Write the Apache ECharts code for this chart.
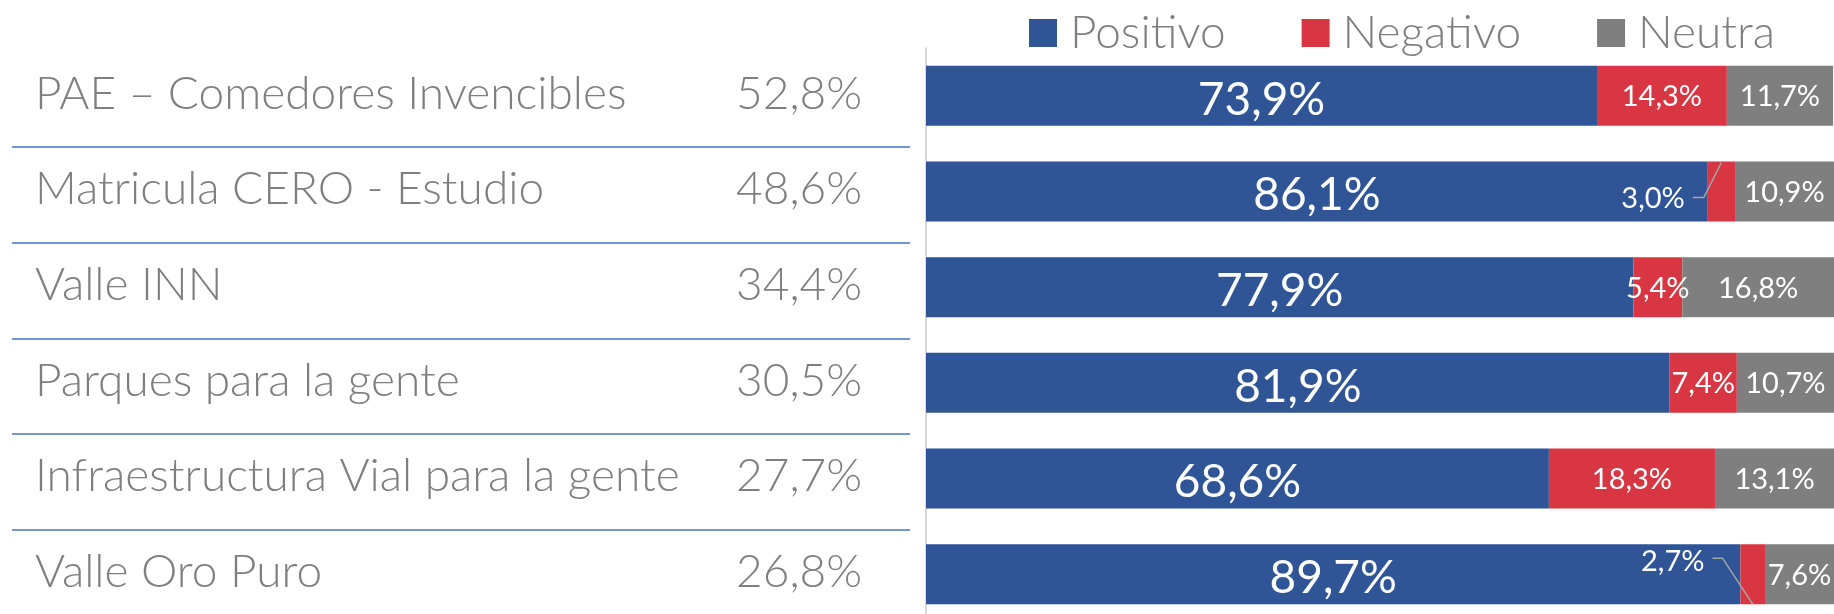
<!DOCTYPE html>
<html>
<head>
<meta charset="utf-8">
<title>Percepción por programa</title>
<script src="https://cdn.jsdelivr.net/npm/echarts@6/dist/echarts.min.js"></script>
<style>
  html, body { margin: 0; padding: 0; background: #fff; }
  #chart { width: 1834px; height: 614px; }
</style>
</head>
<body>
<div id="chart"></div>
<script>
// programas y su participación
const programas = [
    'PAE – Comedores Invencibles',
    'Matricula CERO - Estudio',
    'Valle INN',
    'Parques para la gente',
    'Infraestructura Vial para la gente',
    'Valle Oro Puro'
];
const participacion = [52.8, 48.6, 34.4, 30.5, 27.7, 26.8];

// sentimiento por programa (%)
const positivo = [73.9, 86.1, 77.9, 81.9, 68.6, 89.7];
const negativo = [14.3, 3.0, 5.4, 7.4, 18.3, 2.7];
const neutra = [11.7, 10.9, 16.8, 10.7, 13.1, 7.6];

const FONT = 'Lato';
const GRIS = '#7f7f7f';
const BAR_W = 60;
const MIN_DENTRO = 4;   // segmentos negativos más finos llevan la etiqueta fuera

function pct(v) {
    return v.toFixed(1).replace('.', ',') + '%';
}

function barLabel(size, dy) {
    return {
        show: true,
        position: 'inside',
        offset: [0, dy || 0],
        color: '#fff',
        fontFamily: FONT,
        fontWeight: 400,
        fontSize: size,
        formatter: (p) => pct(p.value)
    };
}

// filas de la tabla de la izquierda
function renderRow(params, api) {
    const idx = api.value(1);
    const center = api.coord([0, idx])[1];
    const band = api.size([0, 1])[1];
    const cs = params.coordSys;
    const children = [
        {
            type: 'text',
            style: {
                text: programas[idx], x: cs.x + 23, y: center - 2,
                align: 'left', verticalAlign: 'middle',
                fill: GRIS, fontFamily: FONT, fontWeight: 300, fontSize: 46
            }
        },
        {
            type: 'text',
            style: {
                text: pct(participacion[idx]), x: cs.x + 850, y: center - 2,
                align: 'right', verticalAlign: 'middle',
                fill: GRIS, fontFamily: FONT, fontWeight: 300, fontSize: 46
            }
        }
    ];
    if (idx < programas.length - 1) {
        const ly = Math.round(center + band / 2 + 3.5);
        children.push({
            type: 'line',
            shape: { x1: cs.x, y1: ly, x2: cs.x + cs.width, y2: ly },
            style: { stroke: '#4472c4', lineWidth: 1.5 }
        });
    }
    return { type: 'group', children: children };
}

// etiqueta externa + línea guía para los segmentos negativos muy finos
function renderGuia(params, api) {
    const idx = api.value(1);
    const ini = api.coord([api.value(0), idx]);
    const fin = api.coord([api.value(0) + api.value(2), idx]);
    const xL = ini[0];
    const mid = (ini[0] + fin[0]) / 2;
    const top = ini[1] - BAR_W / 2;
    const bottom = ini[1] + BAR_W / 2;
    const last = idx === programas.length - 1;
    let ty, pts, tx;
    if (!last) {
        ty = ini[1] + 7;
        tx = xL - 23;
        pts = [[xL - 15, ty - 1], [xL - 4, ty - 1], [mid, top + 1]];
    } else {
        ty = ini[1] - 13;
        tx = xL - 36;
        pts = [[xL - 28, ty - 3], [xL - 18, ty - 3], [mid, bottom]];
    }
    return {
        type: 'group',
        children: [
            {
                type: 'polyline',
                shape: { points: pts },
                style: { stroke: '#a6a6a6', lineWidth: 1.5, fill: null }
            },
            {
                type: 'text',
                style: {
                    text: pct(api.value(2)), x: tx, y: ty,
                    align: 'right', verticalAlign: 'middle',
                    fill: '#fff', fontFamily: FONT, fontWeight: 400, fontSize: 29
                }
            }
        ]
    };
}

const chart = echarts.init(document.getElementById('chart'));

const negData = negativo.map((v) => (v < MIN_DENTRO ? { value: v, label: { show: false } } : v));
const guiaData = [];
negativo.forEach((v, i) => {
    if (v < MIN_DENTRO) guiaData.push([positivo[i], i, v]);
});

const option = {
    animation: false,
    color: ['#2f5597', '#d93644', '#7f7f7f'],
    legend: {
        data: ['Positivo', 'Negativo', 'Neutra'],
        left: 1024,
        top: 5,
        icon: 'rect',
        itemWidth: 28,
        itemHeight: 28,
        itemGap: 76,
        textStyle: {
            color: GRIS, fontFamily: FONT, fontWeight: 300, fontSize: 46,
            padding: [0, 0, 0, 8]
        }
    },
    grid: [
        { left: 926, right: 0, top: 48, height: 574, outerBoundsMode: 'none' },
        { left: 12, width: 898, top: 48, height: 574, outerBoundsMode: 'none' }
    ],
    xAxis: [
        { type: 'value', gridIndex: 0, min: 0, max: 100, show: false },
        { type: 'value', gridIndex: 1, min: 0, max: 1, show: false }
    ],
    yAxis: [
        {
            type: 'category', gridIndex: 0, inverse: true, data: programas,
            axisLine: { show: true, lineStyle: { color: '#d9d9d9', width: 2 } },
            axisTick: { show: false },
            axisLabel: { show: false }
        },
        {
            type: 'category', gridIndex: 1, inverse: true, data: programas,
            show: false
        }
    ],
    series: [
        {
            name: 'Positivo', type: 'bar', stack: 'total', barWidth: BAR_W,
            data: positivo, label: barLabel(46, 4)
        },
        {
            name: 'Negativo', type: 'bar', stack: 'total', barWidth: BAR_W,
            data: negData, label: barLabel(29, 1)
        },
        {
            name: 'Neutra', type: 'bar', stack: 'total', barWidth: BAR_W,
            data: neutra, label: barLabel(29, 1)
        },
        {
            type: 'custom', xAxisIndex: 0, yAxisIndex: 0, silent: true, z: 5,
            encode: { x: 0, y: 1 },
            data: guiaData,
            renderItem: renderGuia
        },
        {
            type: 'custom', xAxisIndex: 1, yAxisIndex: 1, silent: true,
            encode: { x: 0, y: 1 },
            data: programas.map((n, i) => [0, i]),
            renderItem: renderRow
        }
    ]
};

chart.setOption(option);
</script>
</body>
</html>
